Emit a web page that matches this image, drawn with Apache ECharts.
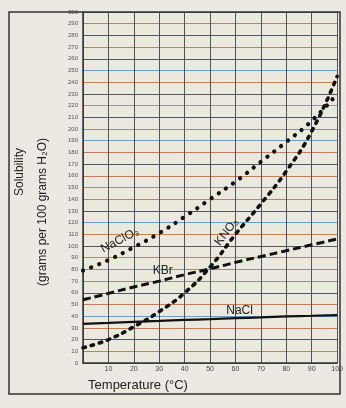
<!DOCTYPE html>
<html><head><meta charset="utf-8">
<script src="https://cdn.jsdelivr.net/npm/echarts@6/dist/echarts.min.js"></script>
<style>html,body{margin:0;padding:0;background:#ebe9e1;}#c{width:346px;height:408px;}</style>
</head><body><div id="c"></div>
<script>
var temps = [0,10,20,30,40,50,60,70,80,90,100];
var naclo3 = [79,88,99,111,125,140,155,172,189,207,230];
var kno3 = [13,20,31,44,60,82,110,136,164,198,245];
var kbr = [54,59.5,65,70,75.5,80.5,86,91,96,101,106];
var nacl = [33.5,34.3,35.2,36,36.8,37.5,38.3,39,39.8,40.4,41];
var xTicks = ['', '10','20','30','40','50','60','70','80','90','100'];
var curveLabels = [
  {text:'NaClO₃', t:14.5, v:105, rot:28},
  {text:'KNO₃', t:56.5, v:112, rot:52},
  {text:'KBr', t:31.4, v:78.6, rot:0},
  {text:'NaCl', t:61.6, v:44.4, rot:0}
];
var O='#c47f58', D='#4f5966', B='#6f9cc6', T='#5fb09f';
var gridColors = [D,O,D,O,B,O,D,O,O,B,D,O,B,D,O,B,O,D,O,B,O,D,T,D,O,B,D,O,D,O,D];

function pairs(arr){ return temps.map(function(t,i){return [t,arr[i]];}); }

var chart = echarts.init(document.getElementById('c'), null, {renderer:'canvas'});
var font = 'Liberation Sans, Arial, sans-serif';
chart.setOption({
  backgroundColor:'#ebe9e1',
  animation:false,
  grid:{left:83, top:12, right:8, bottom:45, show:true, backgroundColor:'#ebe8dd', borderWidth:0},
  xAxis:{type:'value', min:0, max:100, interval:10,
    axisLine:{lineStyle:{color:'#333', width:1.5}},
    axisTick:{show:false},
    axisLabel:{fontSize:7, color:'#444', margin:3, fontFamily:font,
      formatter:function(v){return xTicks[Math.round(v/10)];}},
    splitLine:{show:true, lineStyle:{color:'#4d545c', width:1}}
  },
  yAxis:{type:'value', min:0, max:300, interval:10,
    axisLine:{show:true, lineStyle:{color:'#333', width:1.5}},
    axisTick:{show:false},
    axisLabel:{fontSize:6, color:'#555', margin:5, fontFamily:font},
    splitLine:{show:true, lineStyle:{color:gridColors, width:1}}
  },
  series:[
    {type:'line', data:pairs(naclo3), smooth:true, symbol:'none',
      lineStyle:{color:'#111', width:4.2, type:[0.1,8.6], cap:'round'}},
    {type:'line', data:pairs(kno3), smooth:true, symbol:'none',
      lineStyle:{color:'#111', width:3.6, type:[2.5,6], cap:'round'}},
    {type:'line', data:pairs(kbr), smooth:true, symbol:'none',
      lineStyle:{color:'#111', width:3, type:[8,4]}},
    {type:'line', data:pairs(nacl), smooth:true, symbol:'none',
      lineStyle:{color:'#111', width:2.2}}
  ]
});

var g = [
  {type:'rect', shape:{x:9, y:12, width:331, height:382}, style:{fill:'none', stroke:'#333', lineWidth:1.5}, z:100},
  {type:'text', x:20, y:172, rotation:Math.PI/2, style:{text:'Solubility', font:'12px '+font, fill:'#222', textAlign:'center', textVerticalAlign:'middle'}},
  {type:'text', x:43, y:212, rotation:Math.PI/2, style:{text:'(grams per 100 grams H₂O)', font:'12px '+font, fill:'#222', textAlign:'center', textVerticalAlign:'middle'}},
  {type:'text', x:138, y:385, style:{text:'Temperature (°C)', font:'13px '+font, fill:'#222', textAlign:'center', textVerticalAlign:'middle'}}
];
curveLabels.forEach(function(l){
  var p = chart.convertToPixel({gridIndex:0}, [l.t, l.v]);
  g.push({type:'text', x:p[0], y:p[1], rotation:l.rot*Math.PI/180,
    style:{text:l.text, font:'12px '+font, fill:'#222', textAlign:'center', textVerticalAlign:'middle'}, z:50});
});
chart.setOption({graphic:g});
</script></body></html>
